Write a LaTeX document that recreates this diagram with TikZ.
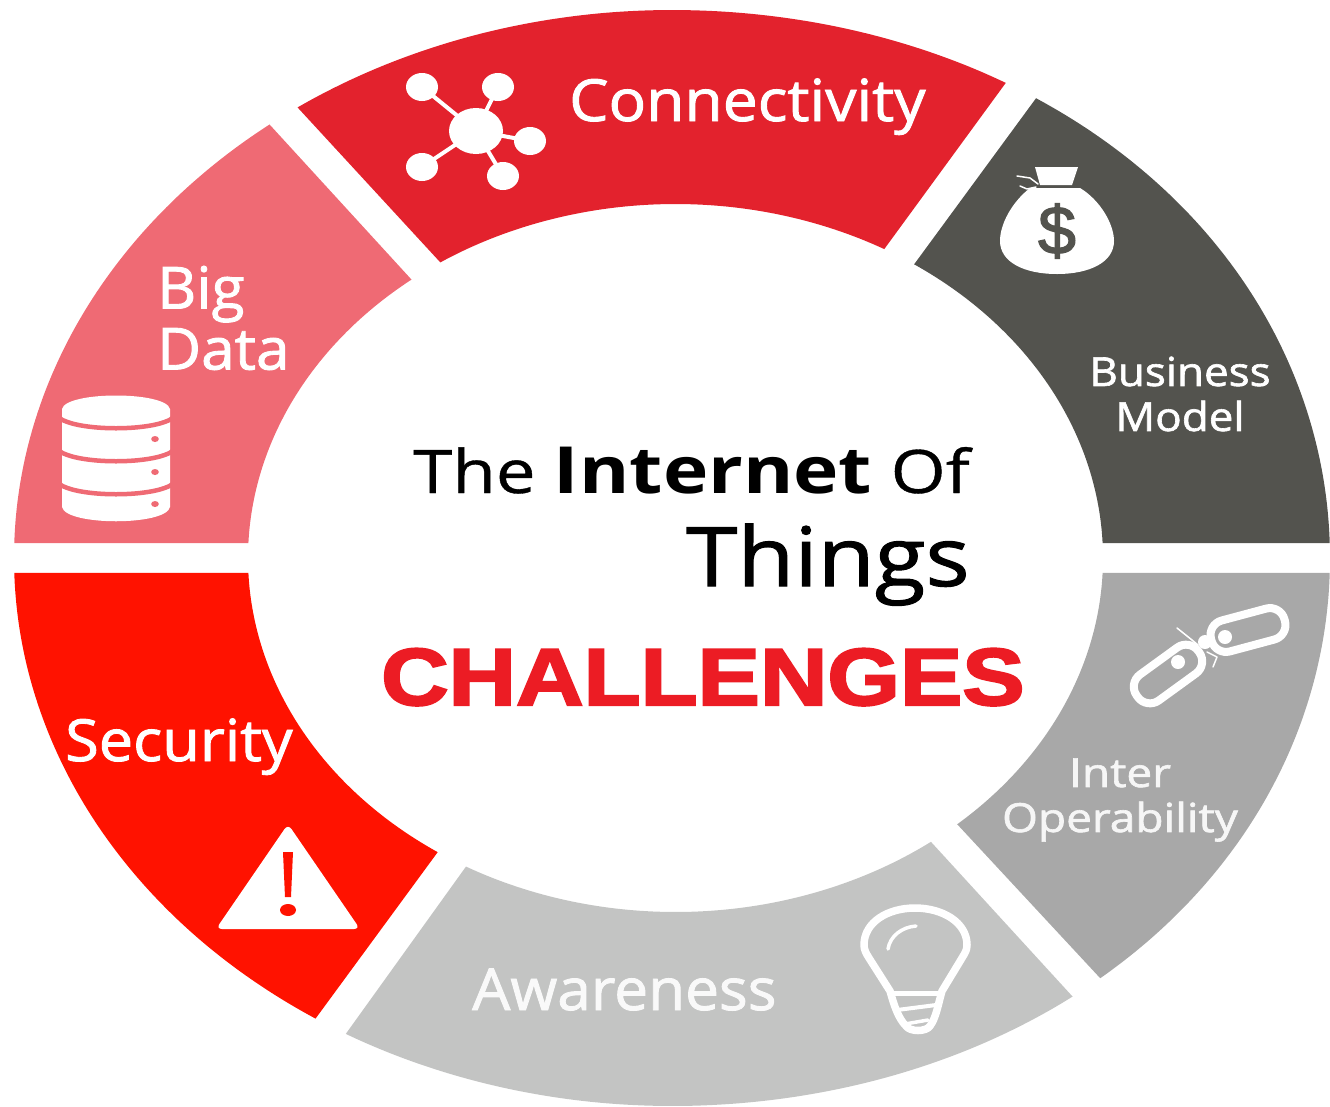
\documentclass[tikz,border=0pt]{standalone}
\usepackage{fontspec}
\setmainfont{Open Sans}
\newfontfamily\semi[FakeBold=1.5]{Open Sans}
\newfontfamily\reg[FakeBold=0.6]{Open Sans}
\newfontfamily\regheavy[FakeBold=1.2]{Open Sans}
\newfontfamily\arialheavy[FakeBold=2.5]{Liberation Sans Bold}
\newfontfamily\arialsemi[FakeBold=2]{Liberation Sans}
\definecolor{cConn}{HTML}{E3222D}
\definecolor{cBus}{HTML}{53534E}
\definecolor{cInter}{HTML}{A8A8A8}
\definecolor{cAware}{HTML}{C3C4C3}
\definecolor{cSec}{HTML}{FF1200}
\definecolor{cBig}{HTML}{EF6A74}
\definecolor{cChal}{HTML}{EC1C24}
\newcommand{\ringseg}[9]{%
  \pgfmathsetmacro{\ta}{atan2((#3-558)/548,(#2-672)/658)}%
  \pgfmathsetmacro{\tb}{atan2((#5-558)/548,(#4-672)/658)}%
  \pgfmathsetmacro{\tc}{atan2((#7-558)/354,(#6-675.5)/427.5)}%
  \pgfmathsetmacro{\td}{atan2((#9-558)/354,(#8-675.5)/427.5)}%
  \pgfmathsetmacro{\tbb}{\tb<\ta?\tb+360:\tb}%
  \pgfmathsetmacro{\tdd}{\td>\tc?\td-360:\td}%
  \fill[#1] plot[domain=\ta:\tbb,samples=60,smooth] ({672+658*(1+0.006*sin(2*\x)*sin(2*\x)*(cos(\x)>0))*cos(\x)},{558+548*(1+0.006*sin(2*\x)*sin(2*\x)*(cos(\x)>0))*sin(\x)})
    -- plot[domain=\tc:\tdd,samples=60,smooth] ({675.5+427.5*cos(\x)},{558+354*sin(\x)}) -- cycle;%
}
\tikzset{
  lbl/.style={inner sep=0pt,text=white,font=\semi\fontsize{58}{61}\selectfont},
  lblsmall/.style={inner sep=0pt,text=white,font=\semi\fontsize{40}{45}\selectfont,align=center},
  icon/.style={fill=white,draw=none},
  iconline/.style={draw=white,line cap=round,line join=round}
}
\begin{document}
\begin{tikzpicture}[x=1pt,y=-1pt]
\useasboundingbox (0,0) rectangle (1330,1106);
\clip (0,0) rectangle (1330,1106);
\ringseg{cConn}{298}{108}{1005}{84}{885}{248}{440}{262}
\ringseg{cBus}{1037}{97}{1335}{543}{1103}{543}{916}{262}
\ringseg{cInter}{1335}{573}{1100}{978}{958}{825}{1103}{573}
\ringseg{cAware}{1073}{997}{345}{1035}{465}{868}{932}{843}
\ringseg{cSec}{316}{1018}{14}{573}{248}{573}{437}{853}
\ringseg{cBig}{14}{543}{270}{125}{410}{278}{248}{543}
% connectivity icon
\foreach \a/\b in {422/87,498/87,530/141,422/167,503/176}{
  \draw[white,line width=4pt] (476,131) -- (\a,\b);
  \fill[icon] (\a,\b) ellipse[x radius=16,y radius=14];
}
\fill[icon] (476,131) ellipse[x radius=27,y radius=23];
% money bag
\fill[icon] (1035,167) -- (1078,167) -- (1072,185) -- (1040,185) -- cycle;
\fill[icon] (1030,188) -- (1080,188)
  .. controls (1100,200) and (1114,224) .. (1114,241)
  .. controls (1114,262) and (1090,274) .. (1057,274)
  .. controls (1024,274) and (1000,262) .. (1000,241)
  .. controls (1000,224) and (1012,202) .. (1030,188) -- cycle;
\draw[iconline,line width=1.5pt] (1017,176) -- (1030,178) -- (1038,184);
\draw[iconline,line width=1.5pt] (1020,186) -- (1027,189) -- (1036,187);
\node[inner sep=0pt,text=cBus,font=\arialsemi\fontsize{68}{68}\selectfont] (dollar) at (1057,231) {\$};
% database
\fill[icon] (62,409) -- (62,507) .. controls (66,526) and (166,526) .. (170,507) -- (170,409) .. controls (166,391) and (66,391) .. (62,409) -- cycle;
\foreach \y in {417,450,483}{
  \draw[cBig,line width=4.5pt] (58,\y) .. controls (75,\y+15) and (157,\y+15) .. (174,\y);
}
\foreach \y in {439,472,504}{
  \fill[cBig] (155,\y) ellipse[x radius=3.8,y radius=3];
}
% chain
\draw[white,line width=8pt,rounded corners=15pt,rotate around={15:(1248,630)}] (1210,614) rectangle (1286,646);
\draw[white,line width=8pt,rounded corners=15pt,rotate around={36:(1168,674)}] (1130,658) rectangle (1206,690);
\fill[icon] (1225,637) circle[radius=7];
\fill[icon] (1178,662) circle[radius=7];
\fill[icon] (1205,642) circle[radius=7];
\draw[iconline,line width=1.5pt] (1177,628) -- (1192,640) -- (1198,645);
\draw[iconline,line width=1.5pt] (1207,652) -- (1217,657) -- (1213,667);
% bulb
\draw[iconline,line width=7.5pt] (890,991)
  -- (869,958) .. controls (866,953) and (864,950) .. (864,945)
  .. controls (864,922) and (888,908) .. (915,908)
  .. controls (942,908) and (967,922) .. (967,945)
  .. controls (967,950) and (965,953) .. (962,958)
  -- (942,991)
  .. controls (938,1005) and (936,1018) .. (930,1026)
  .. controls (926,1032) and (910,1032) .. (906,1026)
  .. controls (898,1018) and (894,1005) .. (890,991) -- cycle;
\draw[iconline,line width=5pt] (890,993) -- (942,993);
\draw[iconline,line width=4pt] (897,1010) -- (936,1005);
\draw[iconline,line width=3.5pt] (905,1024) -- (928,1020);
\draw[iconline,line width=3.5pt] (888,949) .. controls (890,936) and (902,927) .. (916,926);
% warning
\fill[icon,rounded corners=6pt] (288,824) -- (360,929) -- (216,929) -- cycle;
\fill[cSec] (283,852) -- (293,852) -- (291,897) -- (285,897) -- cycle;
\fill[cSec] (288,910) ellipse[x radius=8,y radius=6];
% labels
\node[lbl,anchor=base west,xscale=1.075] (conn) at (569,121) {Connectivity};
\node[lbl,align=left,anchor=west,xscale=1.04] (big) at (157,318) {Big\\Data};
\node[lbl,anchor=base west,xscale=1.055] (sec) at (65,761) {Security};
\node[lbl,anchor=base west,text=white!90!cAware,xscale=1.04] (aware) at (472,1010) {Awareness};
\node[lblsmall,xscale=1.1] (bus) at (1180,394) {Business\\Model};
\node[lblsmall,text=white!90!cInter,xscale=1.15] (inter) at (1120,800) {Inter\\Operability};
% title
\node[inner sep=0pt,anchor=base west,text=black,xscale=1.18,font=\reg\fontsize{60}{60}\selectfont] (t1) at (413,493) {The {\normalfont\bfseries\fontsize{65}{65}\selectfont Internet} Of};
\node[inner sep=0pt,anchor=base west,text=black,xscale=1.13,font=\regheavy\fontsize{82}{82}\selectfont] (t2) at (686,586) {Things};
\node[inner sep=0pt,anchor=base west,text=cChal,xscale=1.153,font=\arialheavy\fontsize{81}{81}\selectfont] (t3) at (381,705) {CHALLENGES};
\end{tikzpicture}
\end{document}
